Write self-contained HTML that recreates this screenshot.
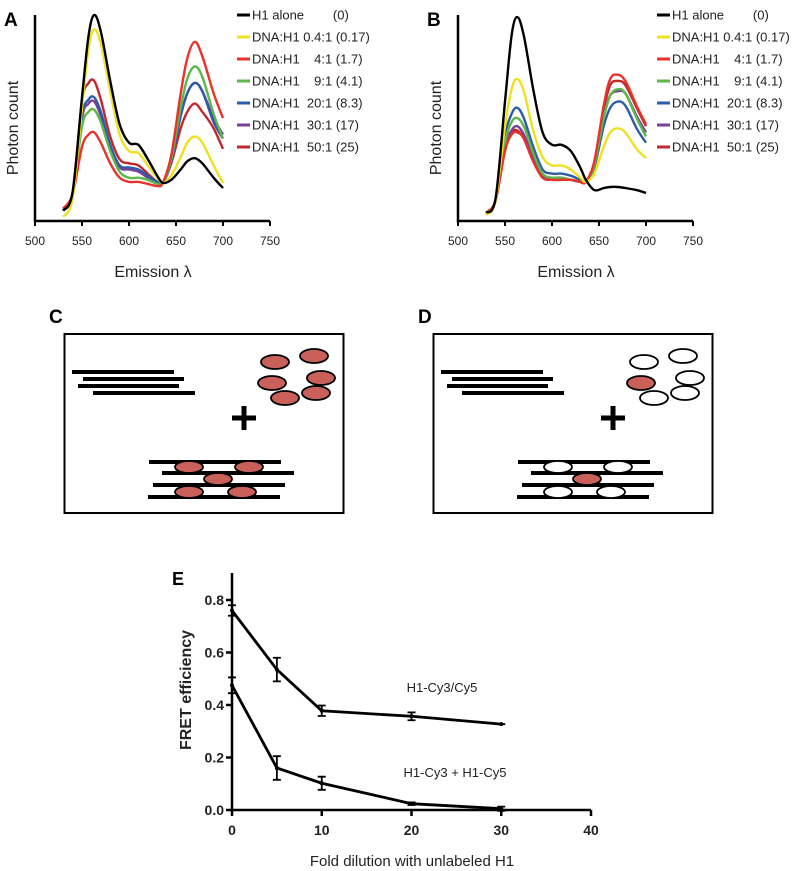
<!DOCTYPE html>
<html><head><meta charset="utf-8"><style>
html,body{margin:0;padding:0;background:#fff;}
svg{display:block;font-family:"Liberation Sans",sans-serif;}
text{white-space:pre;}
</style></head><body>
<svg id="fig" width="800" height="871" viewBox="0 0 800 871" xmlns="http://www.w3.org/2000/svg">
<g id="panelA"></g>
<g id="panelB"></g>
<g id="panelC"></g>
<g id="panelD"></g>
<g id="panelE"></g>
</svg>
<script>
const NS="http://www.w3.org/2000/svg";
// ---- spectra data ----
const wavelengths=[530,540,550,557,563,570,580,590,600,610,620,630,636,645,655,662,670,678,690,700];
const seriesLabels=["H1 alone       ","DNA:H1 0.4:1","DNA:H1    4:1","DNA:H1    9:1","DNA:H1  20:1","DNA:H1  30:1","DNA:H1  50:1"];
const seriesRatios=["(0)","(0.17)","(1.7)","(4.1)","(8.3)","(17)","(25)"];
const seriesColors=["#000000","#f0e020","#e8322a","#5cb848","#2f5ca8","#7b3f98","#c0282e"];
const specA_black=[5,14,60,90,100,92,68,47,38,37,30,22,18.5,20,25,29,30.5,28,21,16];
const specA_yellow=[2,11,55,84,93,86,63,42,34,33,27,21,18.5,22,31,38,41,38,27,18.5];
const specA_red=[6,13,36,42,43,38,28,21,19,19,18,17,18.5,32,62,79,87,80,62,50];
const specA_green=[5,13,46,53,54,48,34,24,21,21,20,18,18.5,30,55,69,75,70,52,40];
const specA_blue=[5,13,51,59,60,53,37,27,26,25,22,19,18.5,29,51,62,67,63,48,40];
const specA_purple=[5,13,50,57,58,51,36,26,25,24,21,19,18.5,29,51,62,67,63,50,42];
const specA_darkred=[6,14,58,67,68,59,41,30,28,27,23,19,18.5,28,45,53,57,53,45,35];
const specB_black=[4,11,58,90,99,90,64,43,37,37,34,26,20,15,16,16.5,16.5,16,15,13.6];
const specB_yellow=[3,10,46,64,69,63,44,31,27,27,25,21,19,23,36,43,45,43,35,30.5];
const specB_red=[4,10,34,42,43,40,29,21,20,20,20,19,19,29,56,69,71,68,56,47];
const specB_green=[3,10,38,48,50,46,33,23,21,21,20,19,19,27,50,61,64,62,50,41];
const specB_blue=[3,10,41,52,55,50,36,25,23,23,22,20,19,26,46,55,58,56,45,38];
const specB_purple=[3,10,36,44,46,42,31,22,21,21,20,19,19,27,51,61,63,62,51,43];
const specB_darkred=[4,10,35,43,44,40,29,21,20,20,20,19,19,28,54,66,68,66,55,46];
const xTicks=[500,550,600,650,700,750];
// ---- FRET data ----
const dilution=[0,5,10,20,30];
const fretLinked=[0.76,0.535,0.378,0.357,0.327];
const fretLinkedErr=[0.02,0.045,0.02,0.015,0];
const fretMixed=[0.475,0.16,0.102,0.024,0.005];
const fretMixedErr=[0.03,0.045,0.025,0.005,0.008];
const eXTicks=[0,10,20,30,40];
const eYTicks=[0.0,0.2,0.4,0.6,0.8];

function mk(tag,attrs,parent,text){const e=document.createElementNS(NS,tag);for(const k in attrs)e.setAttribute(k,attrs[k]);if(text!==undefined)e.textContent=text;parent.appendChild(e);return e;}
function smooth(pts){let d="M"+pts[0][0]+","+pts[0][1];for(let i=0;i<pts.length-1;i++){const p0=pts[Math.max(0,i-1)],p1=pts[i],p2=pts[i+1],p3=pts[Math.min(pts.length-1,i+2)];const c1=[p1[0]+(p2[0]-p0[0])/6,p1[1]+(p2[1]-p0[1])/6],c2=[p2[0]-(p3[0]-p1[0])/6,p2[1]-(p3[1]-p1[1])/6];d+=" C"+c1[0].toFixed(1)+","+c1[1].toFixed(1)+" "+c2[0].toFixed(1)+","+c2[1].toFixed(1)+" "+p2[0].toFixed(1)+","+p2[1].toFixed(1);}return d;}

function spectrum(g,ox,letter,series,lx){
  const x0=ox+35,yB=221,yT=15;
  const sx=w=>x0+(w-500)*0.94;
  const sy=v=>yB-v*(yB-yT)/100;
  const lt=mk('text',{x:ox+4,y:26,'font-size':19,'font-weight':'bold'},g,letter);
  
  
  const order=[6,5,4,3,2,1,0];
  order.forEach(i=>{const pts=wavelengths.map((w,j)=>[sx(w),sy(series[i][j])]);
    const p=mk('path',{d:smooth(pts),fill:'none',stroke:seriesColors[i],'stroke-width':2.4},g);
    
    });
  const ax=mk('path',{d:`M${x0},${yT} V${yB} H${sx(750)}`,fill:'none',stroke:'#000','stroke-width':2.5},g);
  
  
  xTicks.forEach(t=>{mk('line',{x1:sx(t),x2:sx(t),y1:yB,y2:yB+5,stroke:'#000','stroke-width':2},g);
    const tl=mk('text',{x:sx(t),y:yB+24,'font-size':12,'text-anchor':'middle',fill:'#222'},g,t);
    
    });
  const yt=mk('text',{x:0,y:0,'font-size':16,'text-anchor':'middle',transform:`translate(${ox+18},128) rotate(-90)`,fill:'#222'},g,'Photon count');
  
  
  const xt=mk('text',{x:ox+153,y:277,'font-size':16,'text-anchor':'middle',fill:'#222'},g,'Emission λ');
  
  
  seriesLabels.forEach((s,i)=>{const y=15+i*22;
    mk('line',{x1:lx,x2:lx+13,y1:y,y2:y,stroke:seriesColors[i],'stroke-width':3},g);
    const t=mk('text',{x:lx+15,y:y+4.5,'font-size':13,fill:'#222'},g,s+' '+seriesRatios[i]);
    
    });
}
spectrum(document.getElementById('panelA'),0,'A',[specA_black,specA_yellow,specA_red,specA_green,specA_blue,specA_purple,specA_darkred],237);
spectrum(document.getElementById('panelB'),423,'B',[specB_black,specB_yellow,specB_red,specB_green,specB_blue,specB_purple,specB_darkred],657);

function diagram(g,dx,letter,filledTop,filledBottom){
  const lt=mk('text',{x:dx+49,y:323,'font-size':19,'font-weight':'bold'},g,letter);
  
  
  const b=mk('rect',{x:dx+64.5,y:334,width:279,height:179,fill:'none',stroke:'#000','stroke-width':2},g);
  
  
  [[72,174,372],[83,184,379],[78,179,386],[93,195,393]].forEach(l=>mk('line',{x1:dx+l[0],x2:dx+l[1],y1:l[2],y2:l[2],stroke:'#000','stroke-width':4},g));
  [[275,362],[314,356],[272,383],[321,378],[285,398],[316,393]].forEach((o,i)=>mk('ellipse',{cx:dx+o[0],cy:o[1],rx:14,ry:7,fill:filledTop.includes(i)?'#c9605a':'#fff',stroke:'#000','stroke-width':1.8},g));
  mk('path',{d:`M${dx+232},418 H${dx+256} M${dx+244},406 V430`,stroke:'#000','stroke-width':5},g);
  [[149,281,462],[162,294,473],[153,285,485],[148,280,497]].forEach(l=>mk('line',{x1:dx+l[0],x2:dx+l[1],y1:l[2],y2:l[2],stroke:'#000','stroke-width':4},g));
  [[189,467],[249,467],[218,479],[189,492],[242,492]].forEach((o,i)=>mk('ellipse',{cx:dx+o[0],cy:o[1],rx:14,ry:6,fill:filledBottom.includes(i)?'#c9605a':'#fff',stroke:'#000','stroke-width':1.8},g));
}
diagram(document.getElementById('panelC'),0,'C',[0,1,2,3,4,5],[0,1,2,3,4]);
diagram(document.getElementById('panelD'),369,'D',[2],[2]);

(function(){
  const g=document.getElementById('panelE');
  const x0=232,y0=810;
  const sx=v=>x0+v*(591-232)/40;
  const sy=v=>y0-v*(810-600)/0.8;
  const lt=mk('text',{x:172,y:585,'font-size':18,'font-weight':'bold'},g,'E');
  
  
  [[fretLinked,fretLinkedErr,'line-h1-cy3-cy5'],[fretMixed,fretMixedErr,'line-h1-cy3-plus-h1-cy5']].forEach(s=>{
    const p=mk('polyline',{points:dilution.map((d,i)=>sx(d)+','+sy(s[0][i])).join(' '),fill:'none',stroke:'#000','stroke-width':2.8},g);
    
    
    dilution.forEach((d,i)=>{const x=sx(d),e=s[1][i];
      mk('path',{d:`M${x},${sy(s[0][i]+e)} V${sy(s[0][i]-e)} M${x-4},${sy(s[0][i]+e)} H${x+4} M${x-4},${sy(s[0][i]-e)} H${x+4}`,stroke:'#000','stroke-width':1.8,fill:'none'},g);
      mk('circle',{cx:x,cy:sy(s[0][i]),r:2,fill:'#000'},g);});
  });
  const ax=mk('path',{d:`M${x0},573 V${y0} H${sx(40)}`,fill:'none',stroke:'#000','stroke-width':2.5},g);
  
  
  eXTicks.forEach(t=>{mk('line',{x1:sx(t),x2:sx(t),y1:y0,y2:y0+6,stroke:'#000','stroke-width':2.5},g);
    const tl=mk('text',{x:sx(t),y:y0+25,'font-size':14,'font-weight':'bold','text-anchor':'middle',fill:'#222'},g,t);
    
    });
  eYTicks.forEach(t=>{mk('line',{x1:x0-6,x2:x0,y1:sy(t),y2:sy(t),stroke:'#000','stroke-width':2.5},g);
    const tl=mk('text',{x:x0-8,y:sy(t)+5,'font-size':14,'font-weight':'bold','text-anchor':'end',fill:'#222'},g,t.toFixed(1));
    
    });
  const yt=mk('text',{x:0,y:0,'font-size':16,'font-weight':'bold','text-anchor':'middle',transform:'translate(191,690) rotate(-90)',fill:'#222'},g,'FRET efficiency');
  
  
  const xt=mk('text',{x:412,y:866,'font-size':15,'text-anchor':'middle',fill:'#222'},g,'Fold dilution with unlabeled H1');
  
  
  const a1=mk('text',{x:442,y:692,'font-size':13,'text-anchor':'middle',fill:'#222'},g,'H1-Cy3/Cy5');
  
  
  const a2=mk('text',{x:455,y:777,'font-size':13,'text-anchor':'middle',fill:'#222'},g,'H1-Cy3 + H1-Cy5');
  
  
})();
</script>
</body></html>
